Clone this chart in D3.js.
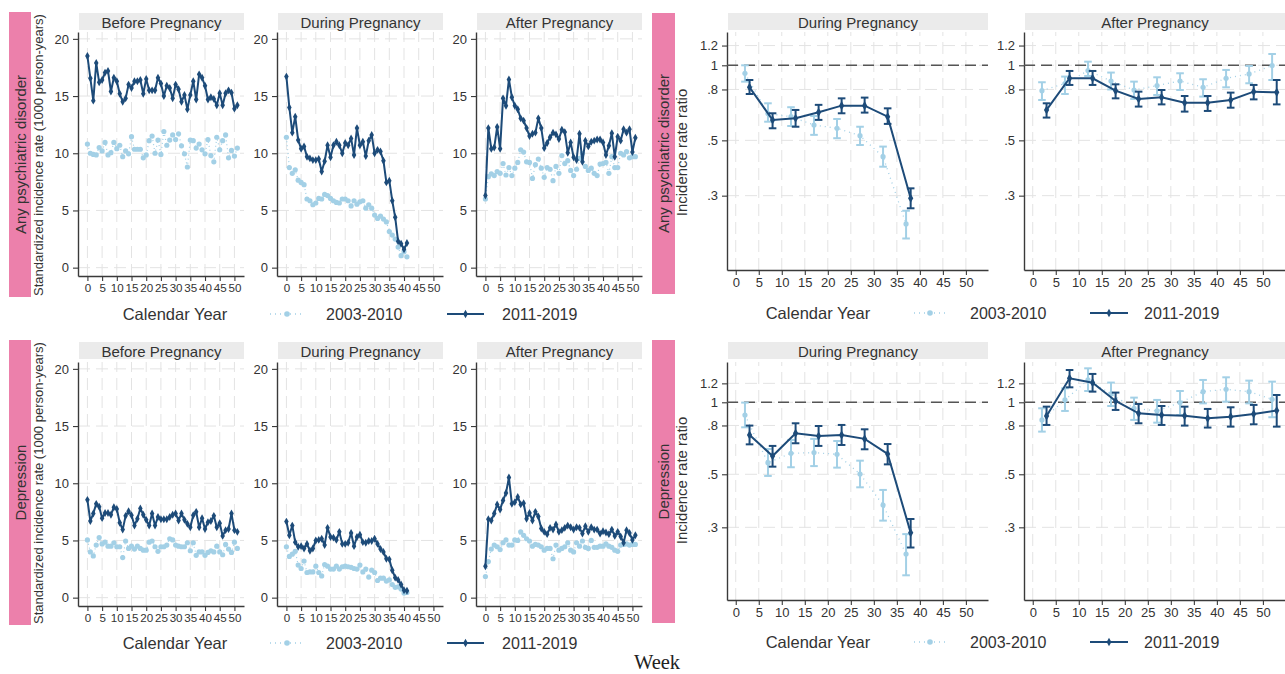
<!DOCTYPE html>
<html>
<head>
<meta charset="utf-8">
<script src="https://cdn.jsdelivr.net/npm/d3@7"></script>
<style>
  body { margin: 0; background: #fff; }
  svg { display: block; font-family: "Liberation Sans", Arial, Helvetica, sans-serif; }
</style>
</head>
<body>
<svg id="chart" width="1285" height="674"></svg>
<script>
// ---------- Weekly standardized incidence rates (per 1000 person-years) ----------
const periods = ["Before Pregnancy", "During Pregnancy", "After Pregnancy"];
const irrPeriods = ["During Pregnancy", "After Pregnancy"];
const cohorts = ["2003-2010", "2011-2019"];
const outcomes = ["Any psychiatric disorder", "Depression"];

const rateTicks = [0, 5, 10, 15, 20];
const weekTicks = [0, 5, 10, 15, 20, 25, 30, 35, 40, 45, 50];
const irrTicks = [0.3, 0.5, 0.8, 1, 1.2];
const irrTickLabels = [".3", ".5", ".8", "1", "1.2"];

// Any psychiatric disorder
const anyBefore2003 = [10.8,10.0,9.9,9.85,10.5,10.2,10.95,9.85,10.05,10.95,10.4,10.7,9.7,10.2,9.95,11.45,10.35,10.35,10.35,9.6,9.85,11.1,11.5,10.0,11.15,9.9,11.9,10.7,11.15,11.6,11.2,11.7,10.65,9.95,8.8,11.15,11.1,10.45,10.8,10.3,9.95,11.2,9.8,9.25,11.4,10.3,11.1,11.6,9.6,10.25,9.75,10.45];
const anyBefore2011 = [18.5,16.56,14.6,17.9,16.2,16.4,17.05,17.2,15.4,16.6,16.3,15.2,14.5,14.8,16.0,15.7,16.3,16.3,16.4,15.2,16.5,15.5,15.5,15.5,16.6,16.1,15.0,15.9,15.7,14.8,16.0,15.6,14.5,15.1,13.85,15.1,16.3,14.7,16.9,16.6,15.9,14.7,14.9,14.75,14.2,15.25,14.2,15.25,15.5,15.3,13.9,14.2];
const anyDuring2003 = [11.4,8.75,8.25,8.55,7.65,7.45,7.25,6.0,5.85,5.5,5.65,6.05,6.0,6.4,6.3,6.05,5.85,5.7,5.65,6.0,6.0,5.85,5.4,5.85,5.55,5.75,5.85,5.2,5.5,5.2,4.6,4.3,4.5,4.25,4.0,3.15,2.85,2.5,1.8,1.05,1.4,0.95];
const anyDuring2011 = [16.7,14.0,11.8,13.2,11.15,10.4,10.6,9.7,9.55,9.4,9.4,9.5,8.4,9.3,10.7,9.65,10.7,11.0,10.7,10.0,10.9,10.7,11.3,9.85,12.2,10.7,11.0,9.75,11.1,11.6,10.0,10.3,10.15,9.35,7.45,7.6,5.85,4.4,2.3,2.1,1.6,2.15];
const anyAfter2003 = [6.0,7.95,8.2,8.05,8.4,8.25,9.1,8.1,8.75,8.05,8.7,9.2,10.3,10.1,9.25,9.2,7.8,9.0,9.5,8.7,7.9,8.75,8.6,7.6,8.85,8.25,9.8,9.1,9.35,8.5,8.05,8.6,9.55,10.0,8.85,8.5,8.7,8.25,8.05,9.05,9.1,9.2,8.25,9.7,8.75,8.75,10.0,9.85,10.15,9.6,9.7,9.7];
const anyAfter2011 = [6.3,12.2,10.4,10.5,12.3,10.4,14.8,14.15,16.45,14.9,14.15,13.85,13.05,12.85,12.2,11.5,11.7,11.8,13.05,12.2,10.45,10.9,11.4,11.8,11.65,11.25,12.05,11.85,10.05,10.95,9.65,9.4,11.7,9.25,11.1,10.6,11.0,11.1,11.2,11.2,10.95,9.85,10.65,11.75,9.7,11.45,11.1,12.1,11.8,12.1,10.1,11.35];

// Depression
const depBefore2003 = [5.05,4.0,3.65,4.6,5.25,4.7,4.85,4.5,4.5,4.8,4.45,4.45,3.5,4.95,4.3,4.5,4.25,4.5,4.3,4.15,4.15,4.85,4.95,4.45,4.05,4.45,4.45,4.6,5.15,5.05,4.6,4.5,4.45,4.45,4.8,4.1,4.8,3.7,4.0,4.0,3.7,3.95,4.1,4.0,4.5,4.0,3.75,4.65,4.25,3.95,4.85,4.3];
const depBefore2011 = [8.55,6.7,7.35,8.2,7.95,6.95,7.4,7.4,7.25,7.9,7.75,6.55,5.95,7.15,7.55,7.2,6.3,6.9,7.8,7.25,6.8,6.3,7.35,6.3,7.05,6.85,6.85,6.85,7.05,7.25,7.35,6.75,7.35,6.8,6.45,6.15,7.2,7.5,6.15,6.95,6.0,6.6,6.7,7.15,6.15,6.5,5.4,5.9,6.0,7.35,5.9,5.75];
const depDuring2003 = [4.45,3.6,3.8,4.05,2.85,2.55,3.2,2.2,2.25,2.25,2.75,2.2,1.9,2.9,2.75,2.5,2.5,2.75,2.5,2.7,2.75,2.7,2.65,2.55,2.5,2.85,2.25,2.5,1.8,2.4,2.2,1.5,1.7,1.7,1.45,1.55,1.15,0.9,0.95,0.75,0.4,0.45];
const depDuring2011 = [6.65,5.45,6.3,4.85,4.45,4.5,4.3,4.7,4.1,4.3,5.0,5.05,5.15,4.6,6.1,5.3,5.25,5.05,5.75,4.7,4.7,4.8,5.65,4.5,5.3,5.5,4.85,4.8,4.95,4.95,5.15,4.7,4.25,4.0,3.4,3.35,2.4,1.75,1.55,1.15,0.65,0.6];
const depAfter2003 = [1.85,3.15,4.25,4.6,4.45,4.2,4.8,5.05,4.6,4.6,5.05,5.0,5.75,5.45,5.15,4.95,4.5,4.65,4.6,4.45,4.15,4.3,4.3,3.4,4.6,4.15,4.3,4.45,4.8,4.15,4.0,4.8,4.5,4.95,4.4,4.3,5.0,4.4,4.4,4.5,4.5,4.7,4.5,4.4,4.15,4.05,4.6,4.65,4.7,4.6,4.65,4.65];
const depAfter2011 = [2.75,6.85,6.75,7.35,8.15,7.7,8.5,9.15,10.5,8.2,8.35,8.8,8.15,8.25,6.9,7.4,6.75,7.5,7.1,6.05,5.75,5.55,6.1,5.95,6.4,5.75,5.9,6.1,6.3,6.15,5.95,6.15,6.1,5.6,6.25,5.75,6.15,5.95,5.95,5.6,5.8,5.7,5.55,5.95,5.4,5.75,5.35,4.8,5.9,5.65,5.05,5.45];

// ---------- Incidence rate ratios (estimate, lower and upper 95% CI) ----------
const irrWeeksDuring2003 = [2, 7, 12, 17, 22, 27, 32, 37];
const irrWeeksDuring2011 = [3, 8, 13, 18, 23, 28, 33, 38];
const irrWeeksAfter2003 = [2, 7, 12, 17, 22, 27, 32, 37, 42, 47, 52];
const irrWeeksAfter2011 = [3, 8, 13, 18, 23, 28, 33, 38, 43, 48, 53];

const irrAnyDuring2003 = [0.929, 0.64, 0.622, 0.576, 0.559, 0.522, 0.430, 0.231];
const irrAnyDuring2003Lo = [0.86, 0.594, 0.571, 0.526, 0.510, 0.479, 0.392, 0.202];
const irrAnyDuring2003Hi = [1.0, 0.704, 0.679, 0.626, 0.609, 0.567, 0.472, 0.261];
const irrAnyDuring2011 = [0.816, 0.604, 0.613, 0.648, 0.689, 0.689, 0.622, 0.293];
const irrAnyDuring2011Lo = [0.767, 0.559, 0.567, 0.604, 0.642, 0.646, 0.582, 0.267];
const irrAnyDuring2011Hi = [0.873, 0.642, 0.662, 0.694, 0.737, 0.742, 0.672, 0.321];
const irrAnyAfter2003 = [0.791, 0.845, 0.952, 0.865, 0.796, 0.829, 0.865, 0.816, 0.887, 0.923, 0.997];
const irrAnyAfter2003Lo = [0.726, 0.767, 0.906, 0.80, 0.733, 0.76, 0.796, 0.749, 0.816, 0.847, 0.873];
const irrAnyAfter2003Hi = [0.855, 0.901, 1.034, 0.935, 0.86, 0.895, 0.929, 0.879, 0.958, 0.994, 1.11];
const irrAnyAfter2011 = [0.662, 0.887, 0.887, 0.791, 0.733, 0.744, 0.708, 0.708, 0.726, 0.784, 0.779];
const irrAnyAfter2011Lo = [0.617, 0.834, 0.834, 0.737, 0.683, 0.697, 0.652, 0.656, 0.676, 0.730, 0.697];
const irrAnyAfter2011Hi = [0.704, 0.949, 0.949, 0.839, 0.784, 0.796, 0.753, 0.753, 0.777, 0.834, 0.873];

const irrDepDuring2003 = [0.885, 0.559, 0.612, 0.616, 0.606, 0.501, 0.372, 0.232];
const irrDepDuring2003Lo = [0.786, 0.492, 0.535, 0.541, 0.533, 0.441, 0.320, 0.189];
const irrDepDuring2003Hi = [0.997, 0.638, 0.696, 0.703, 0.689, 0.570, 0.430, 0.281];
const irrDepDuring2011 = [0.730, 0.596, 0.742, 0.723, 0.730, 0.703, 0.608, 0.285];
const irrDepDuring2011Lo = [0.667, 0.538, 0.674, 0.657, 0.663, 0.636, 0.550, 0.247];
const irrDepDuring2011Hi = [0.799, 0.657, 0.817, 0.796, 0.804, 0.771, 0.669, 0.325];
const irrDepAfter2003 = [0.844, 1.023, 1.24, 1.084, 0.944, 0.920, 0.997, 1.108, 1.133, 1.108, 1.029];
const irrDepAfter2003Lo = [0.754, 0.920, 1.115, 0.965, 0.844, 0.822, 0.885, 0.99, 1.006, 0.99, 0.866];
const irrDepAfter2003Hi = [0.944, 1.144, 1.387, 1.209, 1.046, 1.023, 1.115, 1.24, 1.272, 1.232, 1.22];
const irrDepAfter2011 = [0.877, 1.26, 1.208, 1.013, 0.899, 0.885, 0.879, 0.857, 0.871, 0.894, 0.923];
const irrDepAfter2011Lo = [0.804, 1.155, 1.108, 0.929, 0.817, 0.804, 0.799, 0.784, 0.791, 0.809, 0.791];
const irrDepAfter2011Hi = [0.959, 1.365, 1.314, 1.098, 0.984, 0.965, 0.959, 0.938, 0.953, 0.975, 1.073];

// ---------- Styling ----------
const COL_OLD = "#a3d0e6";
const COL_NEW = "#1d4b79";
const COL_PINK = "#ec80ab";
const COL_TEXT = "#333333";
const COL_AXIS = "#3a3a3a";
const COL_GRID = "#e3e3e3";
const COL_STRIP = "#ebebeb";

const svg = d3.select("#chart");

// Row geometry (pixel frames for each row of small multiples)
const rowLayout = [
  { rateTop: 32, rateBot: 276, irrTop: 32, irrBot: 270, stripY: 13, legendY: 314,
    pinkTop: 12, pinkBot: 297, rpinkTop: 13, rpinkBot: 294, irrDomain: [0.151, 1.36] },
  { rateTop: 362, rateBot: 606, irrTop: 362, irrBot: 600, stripY: 342, legendY: 643,
    pinkTop: 340, pinkBot: 625, rpinkTop: 340, rpinkBot: 623, irrDomain: [0.149, 1.474] }
];
const rateX0 = [78, 277, 476], rateW = 166;
const irrX0 = [727, 1024], irrW = 261;

const rateData = [
  [[anyBefore2003, anyBefore2011], [anyDuring2003, anyDuring2011], [anyAfter2003, anyAfter2011]],
  [[depBefore2003, depBefore2011], [depDuring2003, depDuring2011], [depAfter2003, depAfter2011]]
];
const irrData = [
  [
    { old: [irrWeeksDuring2003, irrAnyDuring2003, irrAnyDuring2003Lo, irrAnyDuring2003Hi],
      neu: [irrWeeksDuring2011, irrAnyDuring2011, irrAnyDuring2011Lo, irrAnyDuring2011Hi] },
    { old: [irrWeeksAfter2003, irrAnyAfter2003, irrAnyAfter2003Lo, irrAnyAfter2003Hi],
      neu: [irrWeeksAfter2011, irrAnyAfter2011, irrAnyAfter2011Lo, irrAnyAfter2011Hi] }
  ],
  [
    { old: [irrWeeksDuring2003, irrDepDuring2003, irrDepDuring2003Lo, irrDepDuring2003Hi],
      neu: [irrWeeksDuring2011, irrDepDuring2011, irrDepDuring2011Lo, irrDepDuring2011Hi] },
    { old: [irrWeeksAfter2003, irrDepAfter2003, irrDepAfter2003Lo, irrDepAfter2003Hi],
      neu: [irrWeeksAfter2011, irrDepAfter2011, irrDepAfter2011Lo, irrDepAfter2011Hi] }
  ]
];

const diamond = d3.symbol().type(d3.symbolDiamond);

function strip(x0, w, y, title) {
  svg.append("rect").attr("x", x0).attr("y", y).attr("width", w).attr("height", 17)
    .attr("fill", COL_STRIP);
  svg.append("text").attr("x", x0 + w / 2).attr("y", y + 9)
    .attr("text-anchor", "middle").attr("dominant-baseline", "central")
    .attr("font-size", 15).attr("fill", COL_TEXT).text(title);
}

function grid(g, x, y, xt, yt) {
  const [xa, xb] = x.range(), [ya, yb] = y.range();
  g.append("g").selectAll("line").data(xt).join("line")
    .attr("x1", d => x(d)).attr("x2", d => x(d)).attr("y1", ya).attr("y2", yb)
    .attr("stroke", COL_GRID).attr("stroke-width", 1).attr("stroke-dasharray", "12,6");
  g.append("g").selectAll("line").data(yt).join("line")
    .attr("x1", xa).attr("x2", xb).attr("y1", d => y(d)).attr("y2", d => y(d))
    .attr("stroke", COL_GRID).attr("stroke-width", 1).attr("stroke-dasharray", "12,6");
}

function styleAxis(ax, fs) {
  ax.select(".domain").attr("stroke", COL_AXIS).attr("stroke-width", 1.4);
  ax.selectAll(".tick line").attr("stroke", COL_AXIS).attr("stroke-width", 1.1);
  ax.selectAll(".tick text").attr("fill", COL_TEXT).attr("font-size", fs)
    .attr("font-family", "'Liberation Sans', Arial, sans-serif");
}

function ratePanel(r, c) {
  const L = rowLayout[r];
  const x0 = rateX0[c];
  const x = d3.scaleLinear().domain([-3.2, 53.26]).range([x0, x0 + rateW]);
  const y = d3.scaleLinear().domain([-0.73, 20.6]).range([L.rateBot, L.rateTop]);
  const g = svg.append("g");
  grid(g, x, y, weekTicks, rateTicks);
  strip(x0 + 1, rateW - 1, L.stripY, periods[c]);

  const ax = g.append("g").attr("transform", `translate(0,${L.rateBot})`)
    .call(d3.axisBottom(x).tickValues(weekTicks).tickSize(5).tickSizeOuter(0).tickPadding(3));
  styleAxis(ax, 11.6);
  const ay = g.append("g").attr("transform", `translate(${x0},0)`)
    .call(d3.axisLeft(y).tickValues(rateTicks).tickSize(5).tickSizeOuter(0).tickPadding(4));
  styleAxis(ay, 13);

  const [oldS, newS] = rateData[r][c];
  const line = d3.line().x((d, i) => x(i)).y(d => y(d));

  g.append("path").datum(oldS).attr("d", line).attr("fill", "none")
    .attr("stroke", COL_OLD).attr("stroke-width", 1.2).attr("stroke-dasharray", "1,3");
  g.append("g").selectAll("circle").data(oldS).join("circle")
    .attr("cx", (d, i) => x(i)).attr("cy", d => y(d)).attr("r", 2.6).attr("fill", COL_OLD);

  g.append("path").datum(newS).attr("d", line).attr("fill", "none")
    .attr("stroke", COL_NEW).attr("stroke-width", 2).attr("stroke-linejoin", "round");
  g.append("g").selectAll("path").data(newS).join("path")
    .attr("transform", (d, i) => `translate(${x(i)},${y(d)})`)
    .attr("d", diamond.size(18)).attr("fill", COL_NEW);
}

function irrSeries(g, x, y, s, col, solid) {
  const [wk, est, lo, hi] = s;
  const pts = wk.map((w, i) => ({ w, e: est[i], l: lo[i], h: hi[i] }));
  const line = d3.line().x(d => x(d.w)).y(d => y(d.e));
  g.append("path").datum(pts).attr("d", line).attr("fill", "none")
    .attr("stroke", col).attr("stroke-width", solid ? 2 : 1.3)
    .attr("stroke-dasharray", solid ? null : "1,4");
  const eb = g.append("g").selectAll("g").data(pts).join("g");
  eb.append("line").attr("x1", d => x(d.w)).attr("x2", d => x(d.w))
    .attr("y1", d => y(d.l)).attr("y2", d => y(d.h))
    .attr("stroke", col).attr("stroke-width", 2);
  eb.append("line").attr("x1", d => x(d.w) - 3.8).attr("x2", d => x(d.w) + 3.8)
    .attr("y1", d => y(d.l)).attr("y2", d => y(d.l)).attr("stroke", col).attr("stroke-width", 2);
  eb.append("line").attr("x1", d => x(d.w) - 3.8).attr("x2", d => x(d.w) + 3.8)
    .attr("y1", d => y(d.h)).attr("y2", d => y(d.h)).attr("stroke", col).attr("stroke-width", 2);
  if (solid) {
    eb.append("path").attr("transform", d => `translate(${x(d.w)},${y(d.e)})`)
      .attr("d", diamond.size(24)).attr("fill", col);
  } else {
    eb.append("circle").attr("cx", d => x(d.w)).attr("cy", d => y(d.e)).attr("r", 2.6).attr("fill", col);
  }
}

function irrPanel(r, c) {
  const L = rowLayout[r];
  const x0 = irrX0[c];
  const x = d3.scaleLinear().domain([-1.9, 54.8]).range([x0, x0 + irrW]);
  const y = d3.scaleLog().domain(L.irrDomain).range([L.irrBot, L.irrTop]);
  const g = svg.append("g");
  grid(g, x, y, weekTicks, irrTicks);
  strip(x0 + 1, irrW - 1, L.stripY, irrPeriods[c]);

  const ax = g.append("g").attr("transform", `translate(0,${L.irrBot})`)
    .call(d3.axisBottom(x).tickValues(weekTicks).tickSize(5).tickSizeOuter(0).tickPadding(3));
  styleAxis(ax, 13);
  const ay = g.append("g").attr("transform", `translate(${x0},0)`)
    .call(d3.axisLeft(y).tickValues(irrTicks).tickSize(5).tickSizeOuter(0).tickPadding(4)
      .tickFormat((d, i) => irrTickLabels[i]));
  styleAxis(ay, 13);

  // reference line at IRR = 1
  g.append("line").attr("x1", x0).attr("x2", x0 + irrW).attr("y1", y(1)).attr("y2", y(1))
    .attr("stroke", "#555").attr("stroke-width", 1.6).attr("stroke-dasharray", "11,6");

  const d = irrData[r][c];
  irrSeries(g, x, y, d.old, COL_OLD, false);
  irrSeries(g, x, y, d.neu, COL_NEW, true);
}

function legend(y, xTitle, oldSym, oldTxt, newSym, newTxt) {
  svg.append("text").attr("x", xTitle).attr("y", y).attr("text-anchor", "middle")
    .attr("dominant-baseline", "central").attr("font-size", 16.5).attr("fill", COL_TEXT)
    .text("Calendar Year");
  // 2003-2010
  svg.append("line").attr("x1", oldSym[0]).attr("x2", oldSym[1]).attr("y1", y).attr("y2", y)
    .attr("stroke", COL_OLD).attr("stroke-width", 1.3).attr("stroke-dasharray", "1,4");
  svg.append("circle").attr("cx", (oldSym[0] + oldSym[1]) / 2).attr("cy", y).attr("r", 2.8).attr("fill", COL_OLD);
  svg.append("text").attr("x", oldTxt).attr("y", y).attr("dominant-baseline", "central")
    .attr("font-size", 16).attr("fill", COL_TEXT).text(cohorts[0]);
  // 2011-2019
  svg.append("line").attr("x1", newSym[0]).attr("x2", newSym[1]).attr("y1", y).attr("y2", y)
    .attr("stroke", COL_NEW).attr("stroke-width", 2);
  svg.append("path").attr("transform", `translate(${(newSym[0] + newSym[1]) / 2},${y})`)
    .attr("d", diamond.size(20)).attr("fill", COL_NEW);
  svg.append("text").attr("x", newTxt).attr("y", y).attr("dominant-baseline", "central")
    .attr("font-size", 16).attr("fill", COL_TEXT).text(cohorts[1]);
}

function vtext(x, yc, txt, fs) {
  svg.append("text").attr("transform", `translate(${x},${yc}) rotate(-90)`)
    .attr("text-anchor", "middle").attr("dominant-baseline", "central")
    .attr("font-size", fs).attr("fill", COL_TEXT).text(txt);
}

rowLayout.forEach((L, r) => {
  // left block: standardized incidence rates
  svg.append("rect").attr("x", 9).attr("y", L.pinkTop).attr("width", 22)
    .attr("height", L.pinkBot - L.pinkTop).attr("fill", COL_PINK);
  vtext(20.5, (L.pinkTop + L.pinkBot) / 2, outcomes[r], 15);
  vtext(38.5, (L.pinkTop + L.pinkBot) / 2 + 0.5, "Standardized incidence rate (1000 person-years)", 13);
  for (let c = 0; c < 3; c++) ratePanel(r, c);
  legend(L.legendY, 175, [270, 304], 326, [447, 484], 502);

  // right block: incidence rate ratios
  svg.append("rect").attr("x", 652).attr("y", L.rpinkTop).attr("width", 23)
    .attr("height", L.rpinkBot - L.rpinkTop).attr("fill", COL_PINK);
  vtext(663.5, (L.rpinkTop + L.rpinkBot) / 2, outcomes[r], 15);
  vtext(681.5, (L.rpinkTop + L.rpinkBot) / 2 - 1, "Incidence rate ratio", 15);
  for (let c = 0; c < 2; c++) irrPanel(r, c);
  legend(L.legendY - 1, 818, [914, 946], 970, [1090, 1128], 1144);
});

// shared x-axis caption
svg.append("text").attr("x", 657).attr("y", 669).attr("text-anchor", "middle")
  .attr("font-family", "'Liberation Serif', 'Times New Roman', serif")
  .attr("font-size", 20.5).attr("fill", "#222").text("Week");
</script>
</body>
</html>
